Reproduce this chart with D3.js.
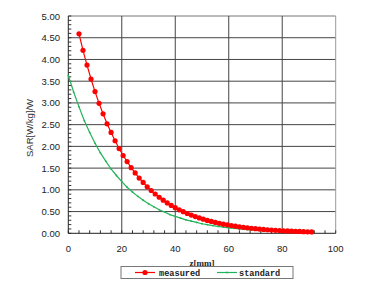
<html lang='eng'>

<head>
    <title>SAR vs z</title>
    <script src="https://d3js.org/d3.v7.min.js" charset="utf-8"></script>
    <style>
        body { margin: 0; background: #fff; }
        text { font-family: 'Liberation Sans', Arial, sans-serif; }
        text.mono { font-family: 'Liberation Mono', monospace; }
        text.serif { font-family: 'Liberation Serif', serif; }
    </style>
</head>

<body>
    <script>
        // data
        var measuredZ = [4, 5.5, 7, 8.5, 10, 11.5, 13, 14.5, 16, 17.5, 19, 20.5, 22, 23.5, 25, 26.5, 28, 29.5,
            31, 32.5, 34, 35.5, 37, 38.5, 40, 41.5, 43, 44.5, 46, 47.5, 49, 50.5, 52, 53.5, 55, 56.5, 58, 59.5,
            61, 62.5, 64, 65.5, 67, 68.5, 70, 71.5, 73, 74.5, 76, 77.5, 79, 80.5, 82, 83.5, 85, 86.5, 88, 89.5, 91];
        var measuredSar = [4.59, 4.21, 3.87, 3.55, 3.26, 2.99, 2.75, 2.52, 2.32, 2.13, 1.95, 1.79, 1.65, 1.51,
            1.39, 1.27, 1.17, 1.07, 0.985, 0.904, 0.830, 0.762, 0.700, 0.642, 0.590, 0.541, 0.497, 0.456, 0.419,
            0.384, 0.353, 0.324, 0.297, 0.273, 0.251, 0.230, 0.211, 0.194, 0.178, 0.163, 0.150, 0.138, 0.126,
            0.116, 0.107, 0.098, 0.090, 0.082, 0.076, 0.069, 0.064, 0.058, 0.054, 0.049, 0.045, 0.042, 0.038,
            0.035, 0.032];
        var standardZ = [0, 2, 4, 6, 8, 10, 12, 14, 16, 18, 20, 22, 24, 26, 28, 30, 32, 34, 36, 38, 40, 42, 44,
            46, 48, 50, 52, 54, 56, 58, 60, 62, 64, 66, 68, 70, 72, 74, 76, 78, 80, 82, 84, 86, 88, 90];
        var standardSar = [3.63, 3.25, 2.91, 2.59, 2.32, 2.07, 1.85, 1.66, 1.48, 1.33, 1.19, 1.06, 0.95, 0.85,
            0.76, 0.68, 0.61, 0.54, 0.49, 0.43, 0.39, 0.35, 0.31, 0.28, 0.25, 0.22, 0.199, 0.178, 0.159, 0.142,
            0.127, 0.114, 0.101, 0.091, 0.081, 0.073, 0.065, 0.058, 0.052, 0.046, 0.041, 0.037, 0.033, 0.030,
            0.026, 0.024];
        var xTicks = [0, 20, 40, 60, 80, 100];
        var yTicks = [0, 0.5, 1, 1.5, 2, 2.5, 3, 3.5, 4, 4.5, 5];
        var seriesNames = ['measured', 'standard'];

        var width = 378, height = 297;
        var svg = d3.select('body').append('svg')
            .attr('width', width).attr('height', height);

        var x = d3.scaleLinear().domain([0, 100]).range([68.3, 335.7]);
        var y = d3.scaleLinear().domain([0, 5]).range([233.3, 16]);

        // grid
        var grid = svg.append('g');
        grid.selectAll('.hg').data(yTicks.slice(1)).enter().append('line')
            .attr('x1', x(0)).attr('x2', x(100))
            .attr('y1', d => y(d)).attr('y2', d => y(d))
            .attr('stroke', d => d === 5 ? '#777' : '#444').attr('stroke-width', 1);
        grid.selectAll('.vg').data(xTicks.slice(1)).enter().append('line')
            .attr('x1', d => x(d)).attr('x2', d => x(d))
            .attr('y1', y(0)).attr('y2', y(5))
            .attr('stroke', d => d === 100 ? '#999' : '#444').attr('stroke-width', 1);

        // minor ticks
        var minorY = d3.range(0, 5.001, 0.1);
        svg.append('g').selectAll('line').data(minorY).enter().append('line')
            .attr('x1', x(0)).attr('x2', x(0) + 3)
            .attr('y1', d => y(d)).attr('y2', d => y(d))
            .attr('stroke', '#333');
        var minorX = d3.range(0, 100.001, 4);
        svg.append('g').selectAll('line').data(minorX).enter().append('line')
            .attr('x1', d => x(d)).attr('x2', d => x(d))
            .attr('y1', y(0)).attr('y2', y(0) - 3)
            .attr('stroke', '#333');

        // axes lines
        svg.append('line').attr('x1', x(0)).attr('x2', x(0)).attr('y1', y(0)).attr('y2', y(5))
            .attr('stroke', '#222');
        svg.append('line').attr('x1', x(0)).attr('x2', x(100)).attr('y1', y(0)).attr('y2', y(0))
            .attr('stroke', '#222');

        // tick labels
        svg.append('g').selectAll('text').data(yTicks).enter().append('text')
            .attr('x', 60).attr('y', d => y(d) + 3.5)
            .attr('text-anchor', 'end').attr('font-size', '9.5px').attr('fill', '#222')
            .text(d => d.toFixed(2));
        svg.append('g').selectAll('text').data(xTicks).enter().append('text')
            .attr('x', d => x(d)).attr('y', 252)
            .attr('text-anchor', 'middle').attr('font-size', '9.5px').attr('fill', '#222')
            .text(d => d);

        // y label
        svg.append('text')
            .attr('transform', 'translate(33,128) rotate(-90)')
            .attr('text-anchor', 'middle').attr('font-size', '9.5px').attr('fill', '#333')
            .text('SAR[W/kg]/W');

        // lines
        var line = d3.line().x(d => x(d[0])).y(d => y(d[1]));
        var std = standardZ.map((z, i) => [z, standardSar[i]]);
        var meas = measuredZ.map((z, i) => [z, measuredSar[i]]);

        svg.append('path').datum(std).attr('d', line)
            .attr('fill', 'none').attr('stroke', '#22b35a').attr('stroke-width', 1.2);
        svg.append('g').selectAll('circle').data(std).enter().append('circle')
            .attr('cx', d => x(d[0])).attr('cy', d => y(d[1])).attr('r', 0.9)
            .attr('fill', '#22b35a');

        svg.append('path').datum(meas).attr('d', line)
            .attr('fill', 'none').attr('stroke', '#ff0000').attr('stroke-width', 1.2);
        svg.append('g').selectAll('circle').data(meas).enter().append('circle')
            .attr('cx', d => x(d[0])).attr('cy', d => y(d[1])).attr('r', 2.6)
            .attr('fill', '#ff0000');

        // x label
        svg.append('text').attr('class', 'serif')
            .attr('x', 202).attr('y', 265.5)
            .attr('text-anchor', 'middle').attr('font-size', '9px').attr('font-weight', 'bold')
            .attr('fill', '#222')
            .text('z[mm]');

        // legend
        var lg = svg.append('g');
        lg.append('rect').attr('x', 121).attr('y', 266.5).attr('width', 172).attr('height', 12)
            .attr('fill', '#fff').attr('stroke', '#777');
        lg.append('line').attr('x1', 135).attr('x2', 155).attr('y1', 272.5).attr('y2', 272.5)
            .attr('stroke', '#ff0000').attr('stroke-width', 1.2);
        lg.append('circle').attr('cx', 145).attr('cy', 272.5).attr('r', 2.6).attr('fill', '#ff0000');
        lg.append('line').attr('x1', 217).attr('x2', 237).attr('y1', 272.5).attr('y2', 272.5)
            .attr('stroke', '#22b35a').attr('stroke-width', 1.2);
        lg.append('circle').attr('cx', 227).attr('cy', 272.5).attr('r', 0.9).attr('fill', '#22b35a');
        lg.selectAll('.lt').data(seriesNames).enter().append('text').attr('class', 'mono')
            .attr('x', (d, i) => i === 0 ? 159 : 239).attr('y', 275.5)
            .attr('font-size', '8.6px').attr('font-weight', 'bold').attr('fill', '#222')
            .text(d => d);
    </script>
</body>

</html>
